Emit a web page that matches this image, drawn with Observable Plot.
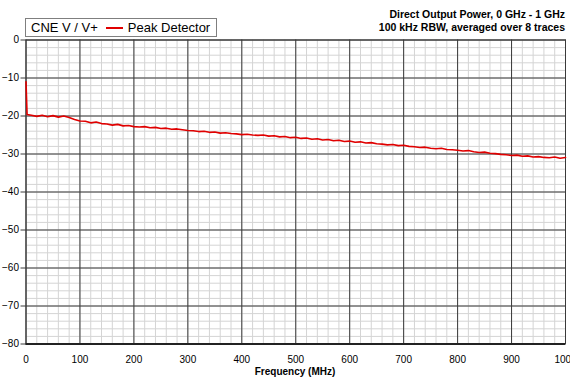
<!DOCTYPE html>
<html>
<head>
<meta charset="utf-8">
<script src="https://cdn.jsdelivr.net/npm/d3@7"></script>
<script src="https://cdn.jsdelivr.net/npm/@observablehq/plot@0.6"></script>
<style>
  html, body { margin: 0; padding: 0; background: #fff; }
  #wrap { position: relative; width: 570px; height: 380px; overflow: hidden; font-family: "Liberation Sans", Arial, sans-serif; }
  #legend { position: absolute; left: 25px; top: 18px; height: 19px; border: 1px solid #7f7f7f; background: #fff;
            display: flex; align-items: center; font-size: 13px; padding: 0 6px 0 5px; white-space: nowrap; box-sizing: border-box; }
  #legend .sw { display: inline-block; width: 17px; height: 2px; background: #e00000; margin: 0 5px 0 8px; }
  #title { position: absolute; right: 5px; top: 8px; text-align: right; font-weight: bold; font-size: 10.5px; line-height: 13px; }
  #xlabel { position: absolute; left: 25px; width: 540px; top: 366px; text-align: center; font-weight: bold; font-size: 10px; }
</style>
</head>
<body>
<div id="wrap">
  <div id="chart"></div>
  <div id="legend"><span>CNE V / V+</span><span class="sw"></span><span>Peak Detector</span></div>
  <div id="title">Direct Output Power, 0 GHz - 1 GHz<br>100 kHz RBW, averaged over 8 traces</div>
  <div id="xlabel">Frequency (MHz)</div>
</div>
<script>
const freqMHz = [0, 2, 10, 20, 30, 40, 50, 60, 70, 80, 90, 100, 110, 120, 130, 140, 150, 160, 170, 180, 190,
  200, 210, 220, 230, 240, 250, 260, 270, 280, 290, 300, 310, 320, 330, 340, 350, 360, 370, 380, 390,
  400, 410, 420, 430, 440, 450, 460, 470, 480, 490, 500, 510, 520, 530, 540, 550, 560, 570, 580, 590,
  600, 610, 620, 630, 640, 650, 660, 670, 680, 690, 700, 710, 720, 730, 740, 750, 760, 770, 780, 790,
  800, 810, 820, 830, 840, 850, 860, 870, 880, 890, 900, 910, 920, 930, 940, 950, 960, 970, 980, 990, 1000];
const peakDetector = [-11.0, -19.6, -19.8, -20.1, -19.8, -20.2, -19.9, -20.3, -20.0, -20.4, -20.9, -21.3, -21.4, -21.8, -21.6, -22.0, -22.1, -22.4, -22.2, -22.6, -22.5,
  -22.8, -22.9, -22.8, -23.1, -23.0, -23.3, -23.2, -23.5, -23.4, -23.6, -23.8, -23.9, -24.1, -24.0, -24.3, -24.2, -24.5, -24.4, -24.6, -24.7,
  -24.9, -24.8, -25.0, -25.1, -25.0, -25.3, -25.2, -25.5, -25.4, -25.7, -25.6, -25.9, -25.8, -26.1, -26.0, -26.3, -26.2, -26.5, -26.4, -26.7,
  -26.6, -26.9, -26.8, -27.1, -27.0, -27.3, -27.4, -27.6, -27.5, -27.8, -27.7, -28.0, -28.1, -28.3, -28.2, -28.5, -28.6, -28.5, -28.8, -28.9,
  -29.0, -29.2, -29.1, -29.4, -29.6, -29.5, -29.8, -29.9, -30.1, -30.2, -30.4, -30.3, -30.6, -30.5, -30.8, -30.7, -30.9, -31.0, -30.8, -31.1, -30.9];
const xMajorTicks = [0, 100, 200, 300, 400, 500, 600, 700, 800, 900, 1000];
const yMajorTicks = [0, -10, -20, -30, -40, -50, -60, -70, -80];
const xMinorStep = 20;
const yMinorStep = 2;

const data = freqMHz.map((f, i) => ({f, p: peakDetector[i]}));
const xMinor = d3.range(0, 1000 + 1e-9, xMinorStep);
const yMinor = d3.range(-80, 0 + 1e-9, yMinorStep);

const chart = Plot.plot({
  width: 570,
  height: 380,
  marginLeft: 25.5,
  marginRight: 5,
  marginTop: 39.5,
  marginBottom: 36.5,
  style: {fontFamily: "'Liberation Sans', Arial, sans-serif", fontSize: "10px", color: "#000", background: "#fff", overflow: "hidden"},
  x: {domain: [0, 1000]},
  y: {domain: [-80, 0]},
  marks: [
    Plot.ruleX(xMinor, {stroke: "#d4d4d4", strokeWidth: 1, strokeOpacity: 1}),
    Plot.ruleY(yMinor, {stroke: "#d4d4d4", strokeWidth: 1, strokeOpacity: 1}),
    Plot.ruleX(xMajorTicks, {stroke: "#3a3a3a", strokeWidth: 1, strokeOpacity: 1}),
    Plot.ruleY(yMajorTicks, {stroke: "#3a3a3a", strokeWidth: 1, strokeOpacity: 1}),
    Plot.frame({stroke: "#3a3a3a", strokeWidth: 1}),
    Plot.ruleY([-80], {stroke: "#222", strokeWidth: 2}),
    Plot.axisY({ticks: yMajorTicks, tickSize: 5, tickPadding: 2, label: null, stroke: "#3a3a3a", fontSize: 10}),
    Plot.axisX({ticks: xMajorTicks, tickSize: 0, tickPadding: 12, label: null, fontSize: 10, tickFormat: d => String(d)}),
    Plot.line(data, {x: "f", y: "p", stroke: "#e00000", strokeWidth: 1.6})
  ]
});
document.getElementById("chart").appendChild(chart);
</script>
</body>
</html>
